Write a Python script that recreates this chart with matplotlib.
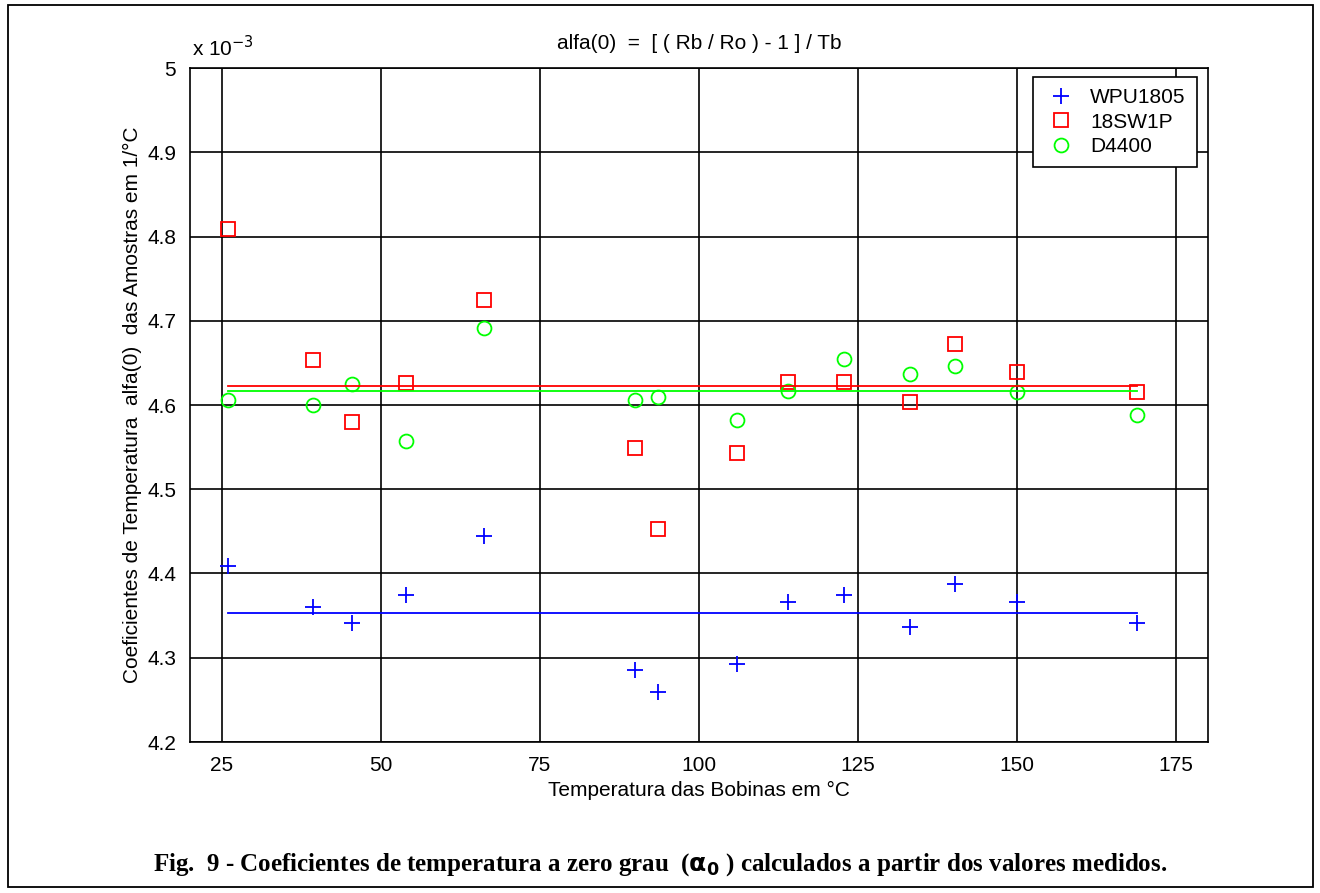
import matplotlib
matplotlib.use('Agg')
import matplotlib.pyplot as plt
from matplotlib.patches import Rectangle
import numpy as np

# temperatura das bobinas (graus C)
temp = [26.0, 39.3, 45.5, 54.0, 66.2, 90.0, 93.6, 106.0, 114.0, 122.8, 133.2, 140.2, 150.0, 168.8]

# alfa(0) em unidades de 1e-3 1/C
wpu1805 = [4.409, 4.360, 4.341, 4.374, 4.445, 4.285, 4.259, 4.292, 4.366, 4.375, 4.337, 4.388, 4.366, 4.341]
sw1p = [4.809, 4.654, 4.580, 4.626, 4.725, 4.549, 4.453, 4.543, 4.627, 4.627, 4.604, 4.672, 4.639, 4.615]
d4400 = [4.606, 4.600, 4.625, 4.557, 4.691, 4.606, 4.610, 4.582, 4.617, 4.655, 4.637, 4.646, 4.615, 4.588]

names = ['WPU1805', '18SW1P', 'D4400']
xticks = [25, 50, 75, 100, 125, 150, 175]
yticks = [4.2, 4.3, 4.4, 4.5, 4.6, 4.7, 4.8, 4.9, 5.0]

plt.rcParams['font.family'] = ['Liberation Sans', 'DejaVu Sans']
fs = 15

fig = plt.figure(figsize=(13.2, 8.93), dpi=100)
ax = fig.add_axes([190/1320, 1 - 742/893, 1018/1320, 674/893])

ax.plot(temp, wpu1805, '+', color=(0, 0, 1), markersize=11, markeredgewidth=1.3, label=names[0])
ax.plot(temp, sw1p, 's', color=(1, 0, 0), markersize=10, markerfacecolor='none', markeredgewidth=1.3, label=names[1])
ax.plot(temp, d4400, 'o', color=(0, 1, 0), markersize=10, markerfacecolor='none', markeredgewidth=1.3, label=names[2])

# linhas das medias
for serie, cor in [(wpu1805, (0, 0, 1)), (sw1p, (1, 0, 0)), (d4400, (0, 1, 0))]:
    m = np.mean(serie)
    ax.plot([temp[0], temp[-1]], [m, m], '-', color=cor, linewidth=1.3)

ax.set_xlim(20, 180)
ax.set_ylim(4.2, 5.0)
ax.set_xticks(xticks)
ax.set_yticks(yticks)
ax.set_yticklabels(['4.2', '4.3', '4.4', '4.5', '4.6', '4.7', '4.8', '4.9', '5'])
ax.grid(True, color='black', linewidth=1.2)
ax.set_axisbelow(True)
for s in ax.spines.values():
    s.set_linewidth(1.2)
ax.tick_params(length=0, labelsize=fs, pad=10)

ax.set_title('alfa(0)  =  [ ( Rb / Ro ) - 1 ] / Tb', fontsize=fs, pad=14)
ax.set_xlabel('Temperatura das Bobinas em \u00b0C', fontsize=fs, labelpad=4)
ax.set_ylabel('Coeficientes de Temperatura  alfa(0)  das Amostras em 1/\u00b0C', fontsize=fs, labelpad=4)
fig.text(192/1320, 1 - 48/893, r'x 10$^{-3}$', fontsize=fs, va='center', ha='left')

leg = ax.legend(loc='upper right', bbox_to_anchor=(1197/1320, 1 - 77/893),
                bbox_transform=fig.transFigure, fontsize=fs, fancybox=False,
                edgecolor='black', framealpha=1, borderaxespad=0, handletextpad=0.6,
                handlelength=1.6, labelspacing=0.25, borderpad=0.55)
leg.get_frame().set_linewidth(1.2)

fig.text(0.5, 1 - 865/893,
         r'Fig.  9 - Coeficientes de temperatura a zero grau  ($\mathbf{\alpha_0}$ ) calculados a partir dos valores medidos.',
         ha='center', va='center', fontsize=18, fontweight='bold', family=['Liberation Serif', 'DejaVu Serif'])

fig.patches.append(Rectangle((8/1320, 1 - 887/893), 1305/1320, 882/893, transform=fig.transFigure,
                             fill=False, edgecolor='black', linewidth=1.3))

fig.savefig('out.png', dpi=100)
